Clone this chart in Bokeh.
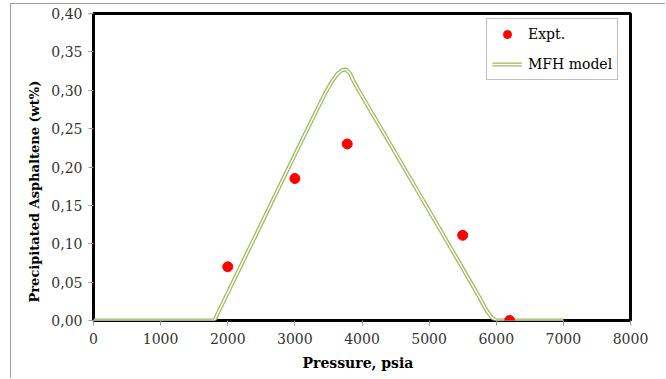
from bokeh.plotting import figure
from bokeh.models import Legend, LegendItem, CustomJSTickFormatter, FixedTicker, Range1d, Title
from bokeh.embed import file_html
from bokeh.resources import INLINE

# Experimental data
expt_p = [2000, 3000, 3780, 5500, 6200]
expt_w = [0.070, 0.185, 0.230, 0.111, 0.000]

# MFH model curve
model_p = [0, 1650, 1800, 1900, 2500, 3000, 3450, 3550, 3630, 3700, 3760, 3820, 3880, 3950,
           4500, 5000, 5500, 5750, 5850, 5930, 6000, 7000]
model_w = [0, 0, 0, 0.018, 0.126, 0.216, 0.296, 0.311, 0.321, 0.326, 0.327, 0.322, 0.311, 0.300,
           0.218, 0.143, 0.068, 0.030, 0.014, 0.004, 0, 0]

x_ticks = [0, 1000, 2000, 3000, 4000, 5000, 6000, 7000, 8000]
y_ticks = [0, 0.05, 0.10, 0.15, 0.20, 0.25, 0.30, 0.35, 0.40]

x_title = "Pressure, psia"
y_title = "Precipitated Asphaltene (wt%)"

FONT = "DejaVu Serif"

p = figure(width=655, height=375, output_backend="svg", toolbar_location=None,
           x_range=Range1d(0, 8000), y_range=Range1d(0, 0.40),
           min_border_left=82, min_border_right=36, min_border_top=9, min_border_bottom=59)
p.margin = (3, 0, 0, 10)
p.styles = {"border-left": "1px solid #a0a0a0", "border-top": "1px solid #a0a0a0"}

p.xgrid.visible = False
p.ygrid.visible = False
p.outline_line_color = "black"
p.outline_line_width = 3
p.background_fill_color = "white"
p.border_fill_color = "white"

for ax in (p.xaxis[0], p.yaxis[0]):
    ax.axis_line_color = None
    ax.major_tick_line_color = "#999999"
    ax.major_tick_out = 5
    ax.major_tick_in = 0
    ax.minor_tick_line_color = None
    ax.major_label_text_font = FONT
    ax.major_label_text_font_size = "14px"
    ax.major_label_text_color = "#333333"

p.xaxis.ticker = FixedTicker(ticks=x_ticks)
p.yaxis.ticker = FixedTicker(ticks=y_ticks)
p.yaxis.formatter = CustomJSTickFormatter(code="return tick.toFixed(2).replace('.', ',');")
p.xaxis.major_label_standoff = 7
p.yaxis.major_label_standoff = 6

# axis titles as side titles, so they can be offset along the axis
xt = Title(text=x_title, align="left", offset=209, standoff=13,
           text_font=FONT, text_font_style="bold", text_font_size="14px", text_color="black")
yt = Title(text=y_title, align="left", offset=18, standoff=14,
           text_font=FONT, text_font_style="bold", text_font_size="13px", text_color="black")
p.add_layout(xt, "below")
p.add_layout(yt, "left")

outer = p.line(model_p, model_w, line_color="#9bbb59", line_width=4)
inner = p.line(model_p, model_w, line_color="white", line_width=1.5)
dots = p.scatter(expt_p, expt_w, size=10, fill_color="#ff0000", line_color="#ff0000")

legend = Legend(items=[LegendItem(label="Expt.", renderers=[dots]),
                       LegendItem(label="MFH model", renderers=[outer, inner])],
                location=(393, 240))
legend.border_line_color = "#808080"
legend.border_line_width = 1
legend.padding = 5
legend.spacing = 10
legend.margin = 0
legend.glyph_width = 30
legend.glyph_height = 20
legend.label_height = 20
legend.label_standoff = 6
legend.label_text_font = FONT
legend.label_text_font_size = "14px"
legend.label_text_color = "black"
legend.background_fill_alpha = 1
p.add_layout(legend)

open("out.html", "w").write(file_html(p, INLINE))
